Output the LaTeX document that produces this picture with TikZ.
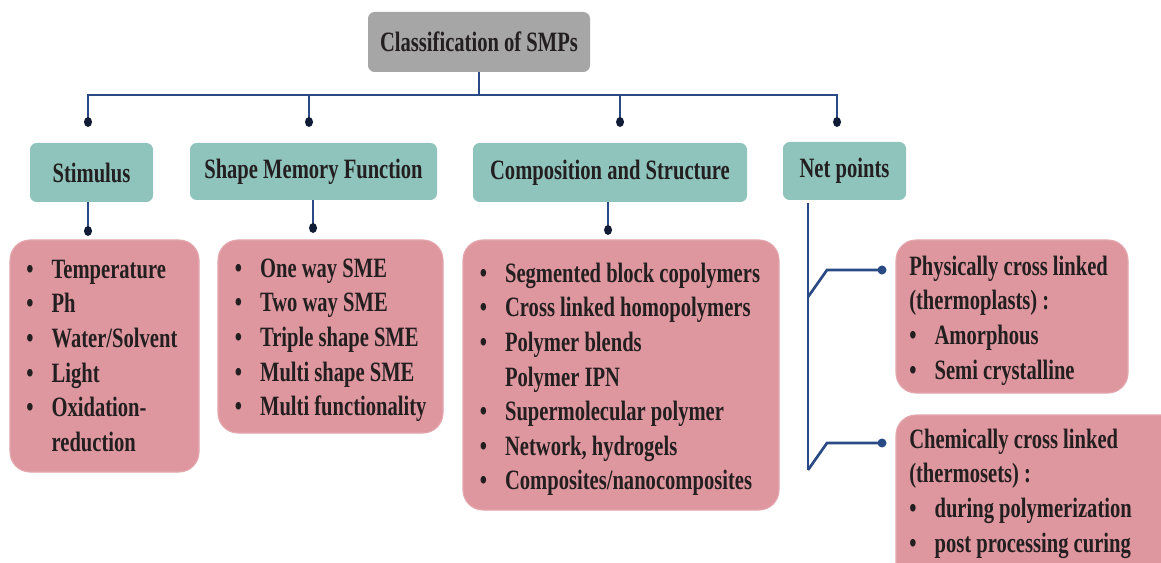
\documentclass[tikz,border=0pt]{standalone}
\usepackage{fontspec}
\setmainfont{Liberation Serif}[FakeStretch=0.735]
\usetikzlibrary{calc}
\definecolor{gbox}{HTML}{A6A6A6}
\definecolor{tbox}{HTML}{8FC4BD}
\definecolor{pbox}{HTML}{DF979F}
\definecolor{lnk}{HTML}{2A4A86}
\definecolor{dotc}{HTML}{101C36}
\definecolor{txt}{HTML}{231F20}
\newcommand\bul{\makebox[19pt][l]{•}}
\newcommand\ind{\hspace*{19pt}}
\begin{document}
\begin{tikzpicture}[x=0.75pt,y=-0.75pt,
  every node/.style={font=\bfseries\fontsize{21}{25.9}\selectfont, text=txt},
  titlebox/.style={fill=gbox, rounded corners=5pt, inner sep=0},
  catbox/.style={fill=tbox, rounded corners=5pt, inner sep=0},
  lstbox/.style={fill=pbox, draw=pbox!85!white, line width=0.8pt, rounded corners=15pt, inner sep=0},
  ltxt/.style={anchor=north west, inner sep=0, align=left},
  link/.style={draw=lnk, line width=2pt},
  pin/.style={fill=dotc}]
\useasboundingbox (0,0) rectangle (1161,563);
\clip (0,0) rectangle (1161,563);
\fill[white] (0,0) rectangle (1161,563);

% boxes
\node[titlebox, minimum width=166.5pt, minimum height=45pt] (title) at (479,42) {Classification of SMPs};
\node[catbox, minimum width=92.25pt, minimum height=44.25pt] (stim) at (91.5,172.5) {Stimulus};
\node[catbox, minimum width=185.25pt, minimum height=42.75pt] (smf) at (313.5,171.5) {Shape Memory Function};
\node[catbox, minimum width=205.5pt, minimum height=44.25pt] (comp) at (610,172.5) {Composition and Structure};
\node[catbox, minimum width=92.25pt, minimum height=43.5pt] (net) at (844.5,171) {Net points};

\node[lstbox, minimum width=141.75pt, minimum height=174pt] (stiml) at (104.5,356) {};
\node[lstbox, minimum width=168.75pt, minimum height=144.75pt] (smfl) at (330.5,336.5) {};
\node[lstbox, minimum width=237pt, minimum height=202.5pt] (compl) at (621,375) {};
\node[lstbox, minimum width=174pt, minimum height=114.75pt] (phys) at (1012,316.5) {};
\node[lstbox, minimum width=220.5pt, minimum height=138.75pt] (chem) at (1043,507.5) {};

% list texts
\node[ltxt] (stimt) at (26,254) {\strut\bul Temperature\\ \bul Ph\\ \bul Water/Solvent\\ \bul Light\\ \bul Oxidation-\\ \ind reduction};
\node[ltxt] (smft) at (234.5,253) {\strut\bul One way SME\\ \bul Two way SME\\ \bul Triple shape SME\\ \bul Multi shape SME\\ \bul Multi functionality};
\node[ltxt] (compt) at (479.5,258) {\strut\bul Segmented block copolymers\\ \bul Cross linked homopolymers\\ \bul Polymer blends\\ \ind Polymer IPN\\ \bul Supermolecular polymer\\ \bul Network, hydrogels\\ \bul Composites/nanocomposites};
\node[ltxt] (physt) at (909,251) {\strut Physically cross linked\\ (thermoplasts) :\\ \bul Amorphous\\ \bul Semi crystalline};
\node[ltxt] (chemt) at (909,424) {\strut Chemically cross linked\\ (thermosets) :\\ \bul during polymerization\\ \bul post processing curing};

% coordinates
\coordinate (bar) at (0,95);
\coordinate (d1) at (88,122);
\coordinate (d2) at (309,122);
\coordinate (d3) at (620,122);
\coordinate (d4) at (837,122);
\coordinate (d5) at (88,231);
\coordinate (d6) at (313,228);
\coordinate (d7) at (608,230);
\coordinate (nb) at (808,470);
\coordinate (n1) at (808,297);
\coordinate (k1) at (827,270);
\coordinate (d8) at (882,270);
\coordinate (k2) at (827,443);
\coordinate (d9) at (882,443);

% connectors
\draw[link] (title.south) -- (title.south |- bar);
\draw[link] (d1) -- (d1 |- bar) -- (d4 |- bar) -- (d4);
\draw[link] (d2 |- bar) -- (d2);
\draw[link] (d3 |- bar) -- (d3);
\draw[link] (stim.south -| d5) -- (d5);
\draw[link] (smf.south -| d6) -- (d6);
\draw[link] (comp.south -| d7) -- (d7);
\draw[link] ($(net.south -| nb)+(0,3)$) -- (nb);
\draw[link] (n1) -- (k1) -- (d8);
\draw[link] (nb) -- (k2) -- (d9);

% dots
\foreach \d in {d1,d2,d3,d4,d5,d6,d7}{\fill[pin] (\d) ellipse [x radius=4, y radius=5];}
\foreach \d in {d8,d9}{\fill[lnk] (\d) ellipse [x radius=4.5, y radius=4.5];}
\end{tikzpicture}
\end{document}
